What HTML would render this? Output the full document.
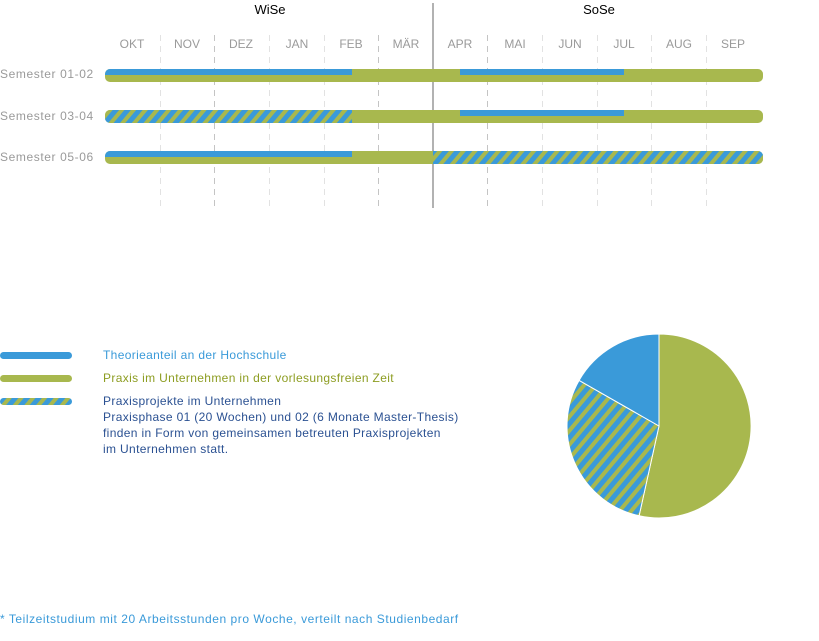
<!DOCTYPE html>
<html><head><meta charset="utf-8"><style>
body{margin:0;width:819px;height:641px;background:#fff;overflow:hidden;font-family:"Liberation Sans","DejaVu Sans",sans-serif}
svg{position:absolute;left:0;top:0}
</style></head><body>
<svg width="819" height="641" viewBox="0 0 819 641" xmlns="http://www.w3.org/2000/svg">
<defs>
<pattern id="h" patternUnits="userSpaceOnUse" width="9" height="9" patternTransform="rotate(40)">
<rect width="9" height="9" fill="#3a9ad9"/><rect width="4" height="9" fill="#a8b84e"/>
</pattern>
<clipPath id="r1"><rect x="105" y="69" width="658" height="13" rx="5"/></clipPath>
<clipPath id="r2"><rect x="105" y="110" width="658" height="13" rx="5"/></clipPath>
<clipPath id="r3"><rect x="105" y="151" width="658" height="13" rx="5"/></clipPath>
</defs>
<g stroke="#e2e2e2" stroke-dasharray="6,5" stroke-width="1">
<line x1="160.5" y1="35" x2="160.5" y2="207"/><line x1="269.5" y1="35" x2="269.5" y2="207"/><line x1="324.5" y1="35" x2="324.5" y2="207"/>
<line x1="542.5" y1="35" x2="542.5" y2="207"/><line x1="597.5" y1="35" x2="597.5" y2="207"/><line x1="651.5" y1="35" x2="651.5" y2="207"/><line x1="706.5" y1="35" x2="706.5" y2="207"/>
</g>
<g stroke="#c4c4c4" stroke-dasharray="6,5" stroke-width="1">
<line x1="214.5" y1="35" x2="214.5" y2="207"/><line x1="378.5" y1="35" x2="378.5" y2="207"/><line x1="487.5" y1="35" x2="487.5" y2="207"/>
</g>
<line x1="433" y1="3" x2="433" y2="208" stroke="#999" stroke-width="1.5"/>
<g font-size="13" fill="#000" text-anchor="middle"><text x="270" y="14">WiSe</text><text x="599" y="14">SoSe</text></g>
<g font-size="12" fill="#9a9a9a" text-anchor="middle">
<text x="132" y="48">OKT</text><text x="187" y="48">NOV</text><text x="241" y="48">DEZ</text><text x="297" y="48">JAN</text><text x="351" y="48">FEB</text><text x="406" y="48">MÄR</text>
<text x="460" y="48">APR</text><text x="515" y="48">MAI</text><text x="570" y="48">JUN</text><text x="624" y="48">JUL</text><text x="679" y="48">AUG</text><text x="733" y="48">SEP</text>
</g>
<g font-size="12" fill="#9a9a9a" letter-spacing="0.6">
<text x="0" y="78">Semester 01-02</text><text x="0" y="120">Semester 03-04</text><text x="0" y="161">Semester 05-06</text>
</g>
<g clip-path="url(#r1)"><rect x="105" y="69" width="658" height="13" fill="#a8b84e"/><rect x="105" y="69" width="247" height="6" fill="#3a9ad9"/><rect x="460" y="69" width="164" height="6" fill="#3a9ad9"/></g>
<g clip-path="url(#r2)"><rect x="105" y="110" width="658" height="13" fill="#a8b84e"/><rect x="105" y="110" width="247" height="13" fill="url(#h)"/><rect x="460" y="110" width="164" height="6" fill="#3a9ad9"/></g>
<g clip-path="url(#r3)"><rect x="105" y="151" width="658" height="13" fill="#a8b84e"/><rect x="105" y="151" width="247" height="6" fill="#3a9ad9"/><rect x="433" y="151" width="330" height="13" fill="url(#h)"/></g>
<rect x="0" y="352" width="72" height="7" rx="3.5" fill="#3a9ad9"/>
<rect x="0" y="375" width="72" height="7" rx="3.5" fill="#a8b84e"/>
<rect x="0" y="398" width="72" height="7" rx="3.5" fill="url(#h)"/>
<g font-size="12" letter-spacing="0.35">
<text x="103" y="359" fill="#3a9ad9">Theorieanteil an der Hochschule</text>
<text x="103" y="382" fill="#8d9d22">Praxis im Unternehmen in der vorlesungsfreien Zeit</text>
<g fill="#2b5192"><text x="103" y="405">Praxisprojekte im Unternehmen</text>
<text x="103" y="421">Praxisphase 01 (20 Wochen) und 02 (6 Monate Master-Thesis)</text>
<text x="103" y="437">finden in Form von gemeinsamen betreuten Praxisprojekten</text>
<text x="103" y="453">im Unternehmen statt.</text></g>
<text x="0" y="623" fill="#3a9ad9" letter-spacing="0.55">* Teilzeitstudium mit 20 Arbeitsstunden pro Woche, verteilt nach Studienbedarf</text>
</g>
<g stroke="#fff" stroke-width="1">
<path d="M659,426 L659,334 A92,92 0 1 1 639.1,515.8 Z" fill="#a8b84e"/>
<path d="M659,426 L639.1,515.8 A92,92 0 0 1 579.1,380.4 Z" fill="url(#h)"/>
<path d="M659,426 L579.1,380.4 A92,92 0 0 1 659,334 Z" fill="#3a9ad9"/>
</g>
</svg>
</body></html>
